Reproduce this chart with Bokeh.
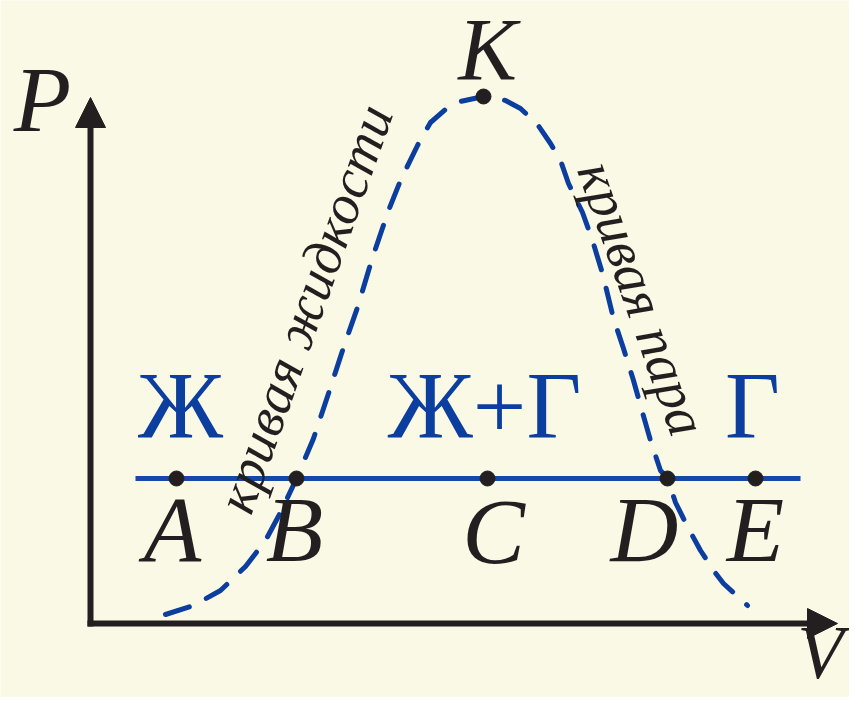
from bokeh.plotting import figure
from bokeh.models import Range1d, Arrow, NormalHead, ColumnDataSource
from bokeh.core.properties import value
from bokeh.embed import file_html
from bokeh.resources import INLINE

# ---- data (V, P units; origin at axes crossing) ----
curve_v = [75, 103, 130, 155, 175, 190, 206, 223, 238, 253, 267, 282, 298, 310, 327,
           333, 340, 355, 370, 393, 415, 430, 447, 460, 470, 478, 492, 502, 512, 523,
           533, 543, 552, 560, 570, 577, 585, 598, 610, 623, 633, 657]
curve_p = [9, 18, 33, 57, 83, 111, 145, 185, 230, 276, 316, 366, 413, 443, 478,
           489, 501, 514, 522, 527, 523, 515, 499, 480, 463, 440, 411, 383, 350, 305,
           275, 243, 211, 183, 153, 145, 121, 95, 73, 53, 40, 18]

isobar_p = 145
isobar_v = [45, 710]

point_names = ["A", "B", "C", "D", "E"]
point_v = [86, 206, 397, 577, 665]
label_v = [82, 204, 403, 554, 665]
label_p = [58, 58, 56, 58, 58]

k_v, k_p = 393, 527

phase_names = ["Ж", "Ж+Г", "Г"]
phase_v = [90, 394, 662]
phase_p = [181, 181, 181]

curve_labels = ["кривая жидкости", "кривая пара"]
curve_label_v = [214, 552]
curve_label_p = [315, 325]
curve_label_angle = [70.5, -70.5]

axis_labels = ["P", "K", "V"]
axis_label_v = [-48, 397, 730]
axis_label_p = [488, 540, -58]
axis_label_size = ["94px", "88px", "76px"]

BASE_SHIFT = 0.385  # renderer's alphabetic-baseline offset, in em

BG = "#F9F9E6"
BLUE = "#0B3E9F"
LBLUE = "#1748A8"
BLACK = "#231F20"
SERIF = value("Liberation Serif")

p = figure(width=849, height=697, x_range=Range1d(-90, 759), y_range=Range1d(-74, 623),
           output_backend="svg", toolbar_location=None,
           x_axis_location=None, y_axis_location=None,
           min_border=0, min_border_left=0, min_border_right=0,
           min_border_top=0, min_border_bottom=0)
p.grid.visible = False
p.outline_line_color = None
p.background_fill_color = BG
p.border_fill_color = BG

# axes with arrows
p.add_layout(Arrow(x_start=0, y_start=-3, x_end=0, y_end=526,
                   line_width=6, line_color=BLACK,
                   end=NormalHead(size=30, fill_color=BLACK, line_color=BLACK, line_width=1)))
p.add_layout(Arrow(x_start=-3, y_start=0, x_end=747, y_end=0,
                   line_width=6, line_color=BLACK,
                   end=NormalHead(size=30, fill_color=BLACK, line_color=BLACK, line_width=1)))

# isobar
p.line(x=isobar_v, y=[isobar_p, isobar_p], line_color=LBLUE, line_width=5)

# dashed saturation curve
p.line(x=curve_v, y=curve_p, line_color=BLUE, line_width=5,
       line_dash="25 19", line_cap="round", line_join="round")

# points
p.scatter(x=point_v, y=[isobar_p] * len(point_v), size=15, color=BLACK)
p.scatter(x=[k_v], y=[k_p], size=15, color=BLACK)

# point labels
src = ColumnDataSource(dict(x=label_v, y=[v + BASE_SHIFT * 94 for v in label_p], t=point_names))
p.text(x="x", y="y", text="t", source=src, text_font=SERIF, text_font_style="italic",
       text_font_size="94px", text_align="center", text_baseline="alphabetic",
       text_color=BLACK)

# axis labels and K
sizes_px = [float(s[:-2]) for s in axis_label_size]
src2 = ColumnDataSource(dict(x=axis_label_v,
                             y=[v + BASE_SHIFT * s for v, s in zip(axis_label_p, sizes_px)],
                             t=axis_labels, fs=axis_label_size))
p.text(x="x", y="y", text="t", source=src2, text_font=SERIF, text_font_style="italic",
       text_font_size="fs", text_align="center", text_baseline="alphabetic",
       text_color=BLACK)

# phase labels
src3 = ColumnDataSource(dict(x=phase_v, y=[v + BASE_SHIFT * 95 for v in phase_p], t=phase_names))
p.text(x="x", y="y", text="t", source=src3, text_font=SERIF,
       text_font_size="95px", text_align="center", text_baseline="alphabetic",
       text_color=BLUE)

# curve labels
src4 = ColumnDataSource(dict(x=curve_label_v, y=curve_label_p, t=curve_labels, a=curve_label_angle))
p.text(x="x", y="y", text="t", angle="a", angle_units="deg", source=src4, text_font=SERIF,
       text_font_style="italic", text_font_size="56px", text_align="center",
       text_baseline="middle", text_color=BLACK)

open("out.html", "w").write(file_html(p, INLINE))
